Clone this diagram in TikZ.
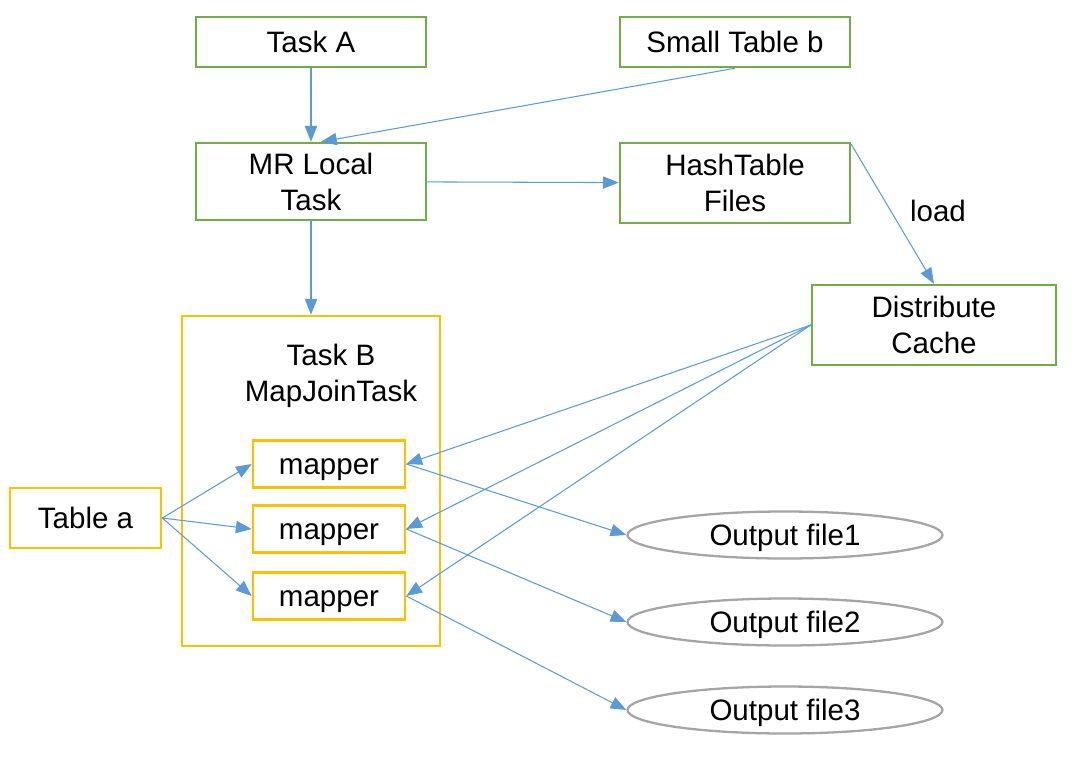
\documentclass[tikz,border=0pt]{standalone}
\usepackage{fontspec}
\setmainfont{Liberation Sans}
\usetikzlibrary{arrows.meta, shapes, positioning}
\definecolor{boxgreen}{HTML}{70AD47}
\definecolor{boxgold}{HTML}{FFC000}
\definecolor{linkblue}{HTML}{5B9BD5}
\definecolor{filegray}{HTML}{A5A5A5}

\begin{document}
\begin{tikzpicture}[x = 0.02cm, y = -0.02cm,
    every node/.style={font=\fontsize{16.8}{20.5}\selectfont, align=center, inner sep=0pt},
    one line/.style={text height=15.2pt, text depth=3.6pt},
    task node/.style={rectangle, draw=boxgreen, line width=1.4pt, minimum width=4.6cm},
    gold node/.style={rectangle, draw=boxgold, line width=1.5pt},
    file node/.style={ellipse, one line, draw=filegray, line width=1.3pt, minimum width=6.3cm, minimum height=0.94cm},
    link/.style={draw=linkblue, line width=0.6pt, -{Triangle[length=9pt, width=7pt]}}]
  \useasboundingbox (0, 0) rectangle (1080, 762);
  \node[task node, one line, minimum height=1.0cm] (taskA) at (311, 42) {Task A};
  \node[task node, one line, minimum height=1.0cm] (tableb) at (735, 42) {Small Table b};
  \node[task node, minimum height=1.54cm] (mrlocal) at (311, 181.5) {MR Local\\Task};
  \node[task node, minimum height=1.6cm] (hashfiles) at (735, 183) {HashTable\\Files};
  \node[task node, minimum width=4.88cm, minimum height=1.6cm] (dcache) at (934, 325) {Distribute\\Cache};
  \node[gold node, minimum width=5.16cm, minimum height=6.6cm] (taskB) at (311, 481) {};
  \node (taskBlabel) at (331, 376) {Task B\\MapJoinTask};
  \node[gold node, one line, minimum width=3.04cm, minimum height=0.94cm] (map1) at (329, 464) {mapper};
  \node[gold node, one line, minimum width=3.04cm, minimum height=0.94cm] (map2) at (329, 529) {mapper};
  \node[gold node, one line, minimum width=3.04cm, minimum height=0.94cm] (map3) at (329, 596) {mapper};
  \node[gold node, one line, minimum width=3.02cm, minimum height=1.2cm] (tablea) at (85.5, 518) {Table a};
  \node[file node] (out1) at (785, 535) {Output file1};
  \node[file node] (out2) at (785, 622) {Output file2};
  \node[file node] (out3) at (785, 710) {Output file3};
  \node[one line] (loadlabel) at (938, 211) {load};
  \draw[link] (taskA) -- (mrlocal);
  \draw[link] (tableb.south) -- ([xshift=0.2cm]mrlocal.north);
  \draw[link] (mrlocal) -- (hashfiles);
  \draw[link] ([yshift=-0.05cm]hashfiles.north east) -- (dcache.north);
  \draw[link] (mrlocal) -- (taskB);
  \draw[link] (tablea.east) -- (map1.west);
  \draw[link] (tablea.east) -- (map2.west);
  \draw[link] (tablea.east) -- (map3.west);
  \draw[link] (dcache.west) -- (map1.east);
  \draw[link] (dcache.west) -- (map2.east);
  \draw[link] (dcache.west) -- (map3.east);
  \draw[link] (map1.east) -- (out1.west);
  \draw[link] (map2.east) -- (out2.west);
  \draw[link] (map3.east) -- (out3.west);
\end{tikzpicture}
\end{document}
